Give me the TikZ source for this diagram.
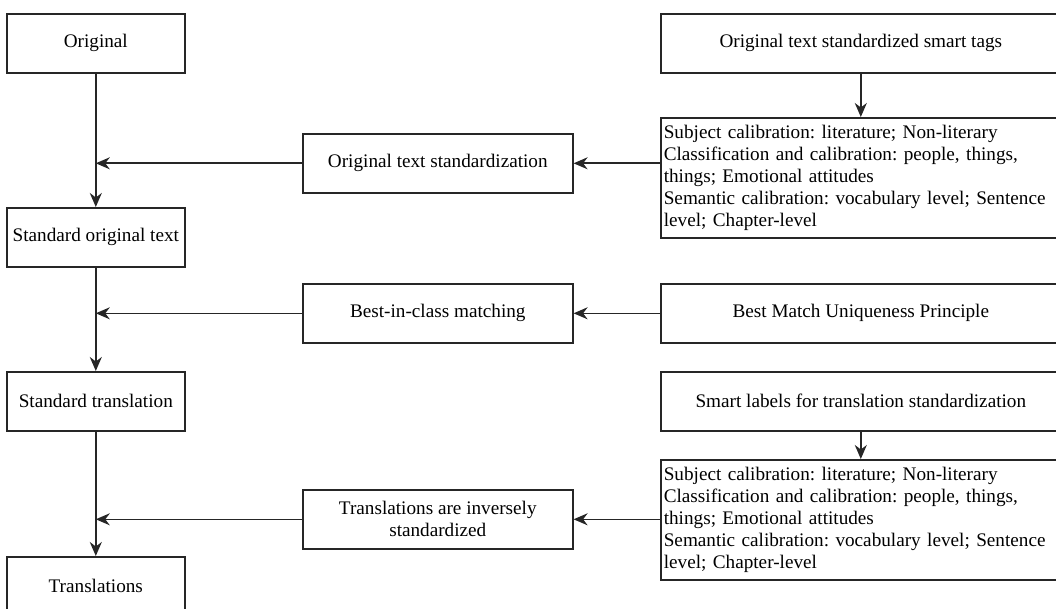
\documentclass[tikz,border=0pt]{standalone}
\usepackage{fontspec}
\setmainfont{Liberation Serif}
\usetikzlibrary{arrows.meta}
\frenchspacing
\begin{document}
\begin{tikzpicture}[x=1pt,y=-1pt,
  every node/.style={font=\fontsize{19.2}{22.2}\selectfont},
  box/.style={draw=black!85, line width=1.6pt, inner sep=0pt, anchor=north west, align=center},
  leftbox/.style={box, minimum width=178pt, minimum height=59pt},
  midbox/.style={box, minimum width=270pt, minimum height=59pt},
  rightbox/.style={box, minimum width=400pt, minimum height=59pt},
  textbox/.style={box, minimum width=400pt, minimum height=120pt, text width=394pt, inner xsep=3pt, align=left},
  conn/.style={draw=black!85, line width=1.6pt, -{Stealth[length=14pt,width=12pt,inset=4.5pt]}}
]
\useasboundingbox (0,0) rectangle (1056,609);
% left column
\node[leftbox] (orig) at (6,13) {Original};
\node[leftbox] (sot) at (6,207) {Standard original text};
\node[leftbox] (st) at (6,371) {Standard translation};
\node[leftbox] (tr) at (6,556) {Translations};
% middle column
\node[midbox] (ots) at (302,133) {Original text standardization};
\node[midbox] (bic) at (302,283) {Best-in-class matching};
\node[midbox] (tis) at (302,489) {Translations are inversely\\standardized};
% right column
\node[rightbox] (tags) at (660,13) {Original text standardized smart tags};
\node[textbox] (tx1) at (660,117) {Subject calibration: literature; Non-literary\\Classification and calibration: people, things,\\things; Emotional attitudes\\Semantic calibration: vocabulary level; Sentence\\level; Chapter-level};
\node[rightbox] (bmu) at (660,283) {Best Match Uniqueness Principle};
\node[rightbox] (lab) at (660,371) {Smart labels for translation standardization};
\node[textbox] (tx2) at (660,459) {Subject calibration: literature; Non-literary\\Classification and calibration: people, things,\\things; Emotional attitudes\\Semantic calibration: vocabulary level; Sentence\\level; Chapter-level};
% connectors
\draw[conn] (orig.south) -- (sot.north);
\draw[conn] (sot.south) -- (st.north);
\draw[conn] (st.south) -- (tr.north);
\draw[conn] (ots.west) -- (ots.west -| orig.south);
\draw[conn] (bic.west) -- (bic.west -| orig.south);
\draw[conn] (tis.west) -- (tis.west -| orig.south);
\draw[conn] (tags.south) -- (tx1.north);
\draw[conn] (lab.south) -- (tx2.north);
\draw[conn] (tx1.west |- ots.east) -- (ots.east);
\draw[conn] (bmu.west) -- (bic.east);
\draw[conn] (tx2.west |- tis.east) -- (tis.east);
\end{tikzpicture}
\end{document}
